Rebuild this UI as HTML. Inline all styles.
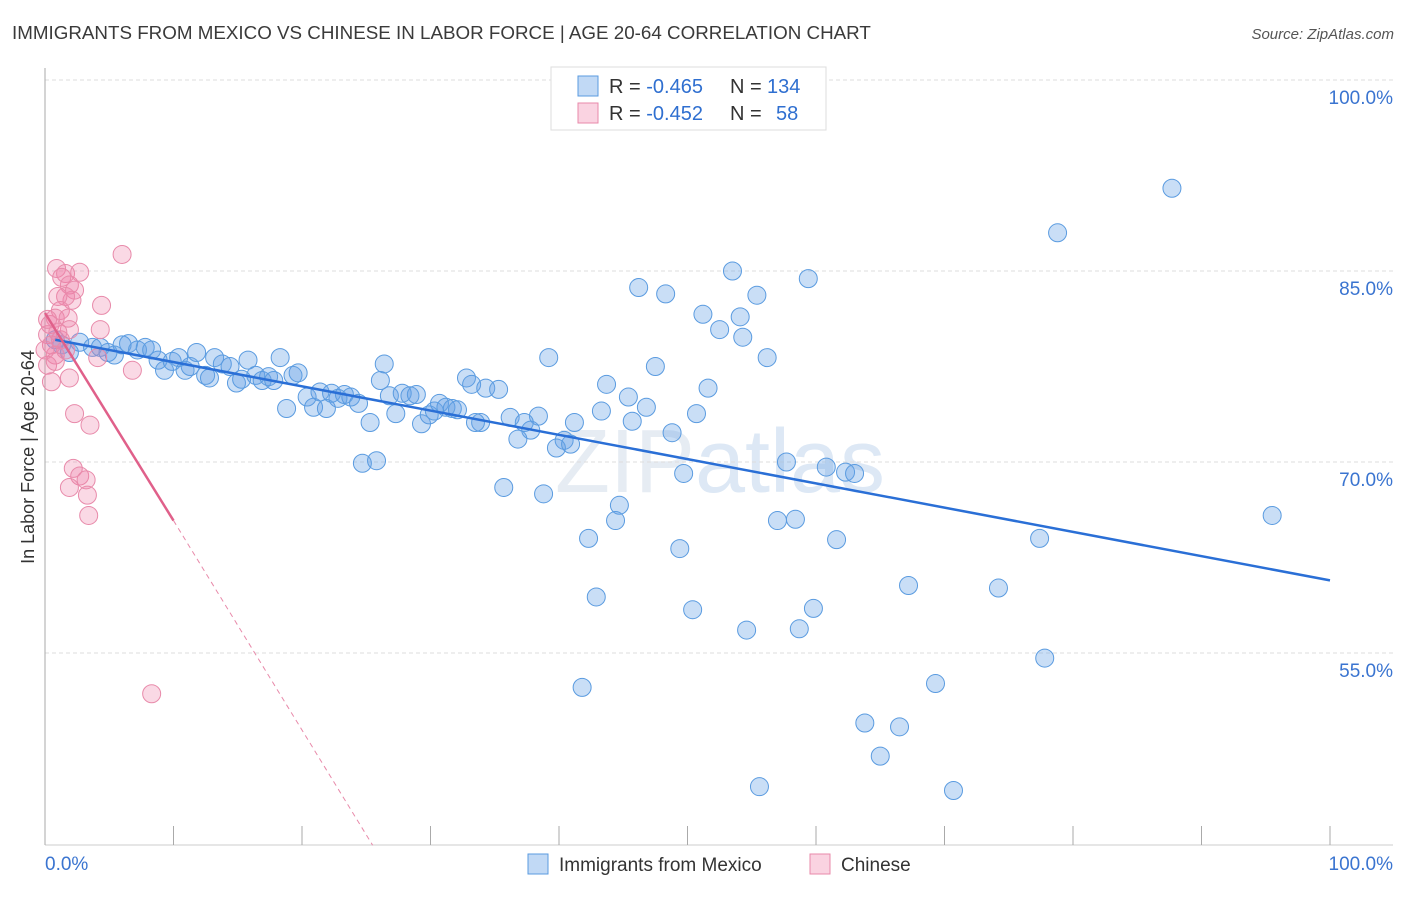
<!DOCTYPE html>
<html><head><meta charset="utf-8">
<style>
body{margin:0;background:#fff;font-family:"Liberation Sans",sans-serif;}
svg text{font-family:"Liberation Sans",sans-serif;}
</style></head>
<body>
<svg id="chart" width="1406" height="892" viewBox="0 0 1406 892" xmlns="http://www.w3.org/2000/svg">
<text x="12" y="39" font-size="18.8" fill="#3a3a3a">IMMIGRANTS FROM MEXICO VS CHINESE IN LABOR FORCE | AGE 20-64 CORRELATION CHART</text>
<text x="1394" y="39" font-size="15" fill="#555" text-anchor="end" font-style="italic">Source: ZipAtlas.com</text>
<text x="720" y="492" font-size="90" fill="#e6ecf3" text-anchor="middle" font-family="Liberation Serif">ZIP<tspan fill="#dde8f5" font-family="Liberation Sans">atlas</tspan></text>
<g id="grid"></g>
<g id="axes"></g>
<g id="blue"></g>
<g id="pink"></g>
<g id="trends"></g>
<text transform="translate(34,457) rotate(-90)" font-size="18" fill="#333" text-anchor="middle">In Labor Force | Age 20-64</text>
<g>
<rect x="551" y="67" width="275" height="63" fill="#fff" stroke="#ddd"/>
<rect x="578" y="76" width="20" height="20" fill="rgba(100,160,230,0.4)" stroke="#5a9be0"/>
<rect x="578" y="103" width="20" height="20" fill="rgba(240,130,170,0.35)" stroke="#e88aaa"/>
<text x="609" y="93" font-size="20" fill="#333">R = <tspan fill="#2f6fd0">-0.465</tspan><tspan x="730">N = </tspan><tspan fill="#2f6fd0" x="767">134</tspan></text>
<text x="609" y="120" font-size="20" fill="#333">R = <tspan fill="#2f6fd0">-0.452</tspan><tspan x="730">N = </tspan><tspan fill="#2f6fd0" x="776">58</tspan></text>
</g>
<g>
<rect x="528" y="854" width="20" height="20" fill="rgba(100,160,230,0.4)" stroke="#5a9be0"/>
<text x="559" y="871" font-size="19" fill="#333">Immigrants from Mexico</text>
<rect x="810" y="854" width="20" height="20" fill="rgba(240,130,170,0.35)" stroke="#e88aaa"/>
<text x="841" y="871" font-size="19" fill="#333">Chinese</text>
</g>
</svg>
<script>
const yTicks=[100,85,70,55];
const yTickLabels=["100.0%","85.0%","70.0%","55.0%"];
const xTickValues=[0,10,20,30,40,50,60,70,80,90,100];
const blueX=[47.6,87.7,78.8,53.5,59.4,46.2,48.3,55.4,51.2,54.1,52.5,54.3,56.2,39.2,26.4,47.5,32.8,43.7,33.2,34.3,35.3,51.6,45.4,46.8,43.3,50.7,45.7,48.8,41.2,38.4,36.2,37.3,37.8,36.8,33.9,40.4,39.8,40.9,49.7,57.7,60.8,62.3,63.0,35.7,38.8,44.7,44.4,57.0,58.4,42.3,49.4,61.6,77.4,95.5,67.2,74.2,42.9,50.4,59.8,54.6,58.7,77.8,41.8,69.3,63.8,66.5,65.0,55.6,70.7,
0.8,1.3,1.9,2.7,3.7,4.3,4.9,5.4,6.0,6.5,7.2,7.8,8.3,8.8,9.3,9.9,10.4,10.9,11.3,11.8,12.5,12.8,13.2,13.8,14.4,14.9,15.3,15.8,16.4,16.9,17.4,17.8,18.3,18.8,19.3,19.7,20.4,20.9,21.4,21.9,22.3,22.8,23.3,23.8,24.4,24.7,25.3,25.8,26.8,27.3,27.8,28.4,28.9,29.3,29.9,30.3,30.7,31.2,31.7,32.1,33.5,26.1];
const blueY=[100,91.5,88.0,85.0,84.4,83.7,83.2,83.1,81.6,81.4,80.4,79.8,78.2,78.2,77.7,77.5,76.6,76.1,76.1,75.8,75.7,75.8,75.1,74.3,74.0,73.8,73.2,72.3,73.1,73.6,73.5,73.1,72.5,71.8,73.1,71.7,71.1,71.4,69.1,70.0,69.6,69.2,69.1,68.0,67.5,66.6,65.4,65.4,65.5,64.0,63.2,63.9,64.0,65.8,60.3,60.1,59.4,58.4,58.5,56.8,56.9,54.6,52.3,52.6,49.5,49.2,46.9,44.5,44.2,
79.6,79.2,78.6,79.4,79.0,79.0,78.6,78.4,79.2,79.3,78.8,79.0,78.8,78.0,77.2,77.9,78.2,77.2,77.5,78.6,76.8,76.6,78.2,77.7,77.5,76.2,76.5,78.0,76.8,76.4,76.7,76.4,78.2,74.2,76.8,77.0,75.1,74.3,75.5,74.2,75.4,75.0,75.3,75.1,74.6,69.9,73.1,70.1,75.2,73.8,75.4,75.2,75.3,73.0,73.7,74.0,74.6,74.3,74.2,74.1,73.1,76.4];
const pinkX=[0.9,6.0,1.6,1.3,1.9,2.7,2.3,2.1,1.6,1.0,4.4,1.2,0.8,0.4,1.8,0.2,0.5,0.8,0.2,0.5,1.9,1.9,4.1,6.8,2.3,3.5,2.2,2.7,3.2,1.9,3.3,3.4,8.3,4.3,1.2,1.6,0.8,0.2,1.0,0.0];
const pinkY=[85.2,86.3,84.8,84.5,83.9,84.9,83.5,82.7,83.0,83.0,82.3,81.9,81.3,80.8,81.3,80.0,79.2,78.4,77.6,76.3,76.6,80.4,78.2,77.2,73.8,72.9,69.5,68.9,68.6,68.0,67.4,65.8,51.8,80.4,79.6,78.8,77.9,81.2,80.2,78.8];
const blueTrend=[[0.8,79.6],[100,60.7]];
const pinkTrendSolid=[[0,81.7],[10,65.4]];
const pinkTrendDash=[[10,65.4],[25.5,39.9]];

const X0=45,X1=1330,Y100=80,PXPER=12.733,BOTTOM=845;
const xs=v=>X0+(X1-X0)*v/100;
const ys=v=>Y100+(100-v)*PXPER;
const NS="http://www.w3.org/2000/svg";
function mk(tag,attrs,parent){const e=document.createElementNS(NS,tag);for(const k in attrs)e.setAttribute(k,attrs[k]);parent.appendChild(e);return e;}
const grid=document.getElementById('grid'),axes=document.getElementById('axes');
yTicks.forEach((t,i)=>{
 const g=mk('line',{x1:X0,x2:1393,y1:ys(t),y2:ys(t),stroke:'#ddd','stroke-dasharray':'4,3'},grid);
 
 
 const tx=mk('text',{x:1393,y:ys(t)+24,'font-size':19,fill:'#3a74d0','text-anchor':'end'},axes);
 tx.textContent=yTickLabels[i];
 
 
});
const ya=mk('line',{x1:X0,x2:X0,y1:68,y2:BOTTOM,stroke:'#aaa'},axes);


const xa=mk('line',{x1:X0,x2:1393,y1:BOTTOM,y2:BOTTOM,stroke:'#ccc'},axes);


xTickValues.forEach(v=>{
 const t=mk('line',{x1:xs(v),x2:xs(v),y1:826,y2:BOTTOM,stroke:'#aaa'},axes);
 
 
});
const xl0=mk('text',{x:X0,y:870,'font-size':19,fill:'#3a74d0'},axes);xl0.textContent='0.0%';


const xl1=mk('text',{x:1393,y:870,'font-size':19,fill:'#3a74d0','text-anchor':'end'},axes);xl1.textContent='100.0%';


const bg=document.getElementById('blue');
blueX.forEach((v,i)=>{
 const c=mk('circle',{cx:xs(v),cy:ys(blueY[i]),r:9,fill:'rgba(100,160,230,0.35)',stroke:'#5a9be0','stroke-width':1},bg);
 
 
});
const pg=document.getElementById('pink');
pinkX.forEach((v,i)=>{
 const c=mk('circle',{cx:xs(v),cy:ys(pinkY[i]),r:9,fill:'rgba(240,130,170,0.3)',stroke:'#e88aaa','stroke-width':1},pg);
 
 
});
const tg=document.getElementById('trends');
const l1=mk('line',{x1:xs(blueTrend[0][0]),y1:ys(blueTrend[0][1]),x2:xs(blueTrend[1][0]),y2:ys(blueTrend[1][1]),stroke:'#2a6fd6','stroke-width':2.5},tg);


const l2=mk('line',{x1:xs(pinkTrendSolid[0][0]),y1:ys(pinkTrendSolid[0][1]),x2:xs(pinkTrendSolid[1][0]),y2:ys(pinkTrendSolid[1][1]),stroke:'#e0608a','stroke-width':2.5},tg);


const l3=mk('line',{x1:xs(pinkTrendDash[0][0]),y1:ys(pinkTrendDash[0][1]),x2:xs(pinkTrendDash[1][0]),y2:ys(pinkTrendDash[1][1]),stroke:'#e88aaa','stroke-width':1,'stroke-dasharray':'5,4'},tg);


</script>
</body></html>
